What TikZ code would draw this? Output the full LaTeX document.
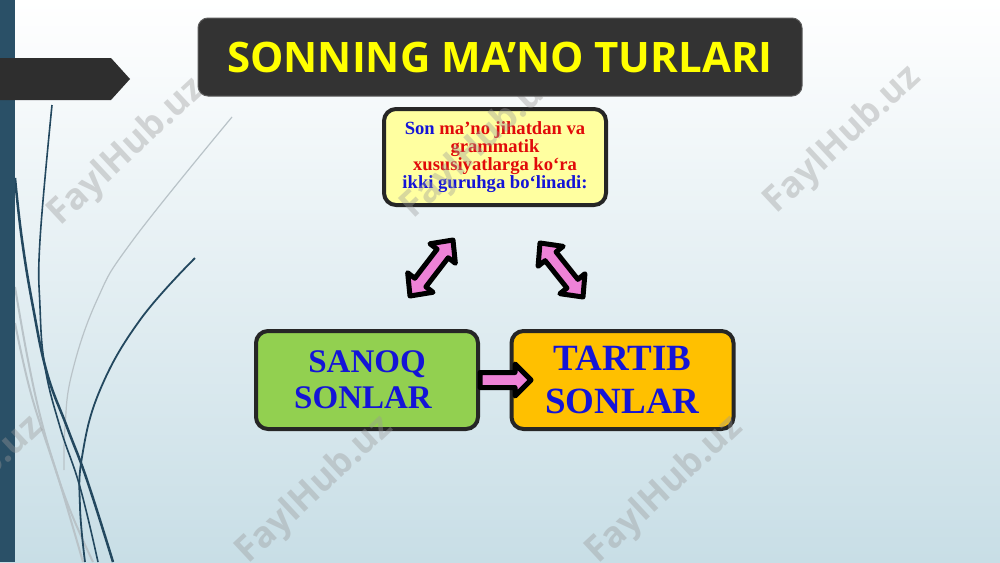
\documentclass[tikz,border=0pt]{standalone}
\usepackage{fontspec}
\setmainfont{Liberation Serif}
\newfontfamily\osans{Open Sans}
\usetikzlibrary{calc}
\definecolor{barblue}{RGB}{42,80,103}
\definecolor{curvedark}{RGB}{35,72,95}
\definecolor{curvegray}{RGB}{185,195,200}
\definecolor{darkbox}{RGB}{51,51,51}
\definecolor{titleyellow}{RGB}{255,255,0}
\definecolor{infoyellow}{RGB}{255,255,160}
\definecolor{sanoqgreen}{RGB}{146,208,80}
\definecolor{tartiborange}{RGB}{255,192,0}
\definecolor{txtblue}{RGB}{20,20,215}
\definecolor{txtred}{RGB}{225,10,10}
\definecolor{arrowpink}{RGB}{238,130,215}
\definecolor{bgbottom}{RGB}{200,222,230}
\tikzset{
  titlebox/.style={draw=darkbox!80!white, line width=1pt, fill=darkbox, rounded corners=10pt,
    minimum width=604pt, minimum height=78pt, text=titleyellow,
    font=\osans\bfseries\fontsize{42}{50}\selectfont, inner sep=0pt},
  roundbox/.style={draw=black!85, line width=4pt, rounded corners=12pt, inner sep=0pt, align=center},
  infobox/.style={roundbox, fill=infoyellow, minimum width=222pt, minimum height=96pt,
    font=\bfseries\fontsize{18.6}{15.2}\selectfont},
  kindbox/.style={roundbox, minimum width=222pt, minimum height=98pt, text=txtblue},
  blockarrow/.style={draw=black, line width=5pt, line join=round, fill=arrowpink},
  darkcurve/.style={draw=curvedark, line width=#1},
  graycurve/.style={draw=curvegray, line width=#1},
  watermark/.style={text=black!40, text opacity=0.38, rotate=43,
    font=\osans\bfseries\fontsize{36}{36}\selectfont, inner sep=0pt}
}
% double block arrow: A, B, shaft half width, head half width, head length
\newcommand{\dblarrow}[5]{%
  \coordinate (p1) at ($(#1)!#5!(#2)$);
  \coordinate (p2) at ($(#2)!#5!(#1)$);
  \draw[blockarrow] (#1) -- ($(p1)!#4!90:(#2)$) -- ($(p1)!#3!90:(#2)$)
    -- ($(p2)!#3!-90:(#1)$) -- ($(p2)!#4!-90:(#1)$) -- (#2)
    -- ($(p2)!#4!90:(#1)$) -- ($(p2)!#3!90:(#1)$)
    -- ($(p1)!#3!-90:(#2)$) -- ($(p1)!#4!-90:(#2)$) -- cycle;}
\newcommand{\sglarrow}[5]{%
  \coordinate (p2) at ($(#2)!#5!(#1)$);
  \draw[blockarrow] ($(#1)!#3!90:(#2)$) -- ($(p2)!#3!-90:(#1)$)
    -- ($(p2)!#4!-90:(#1)$) -- (#2) -- ($(p2)!#4!90:(#1)$)
    -- ($(p2)!#3!90:(#1)$) -- ($(#1)!#3!-90:(#2)$) -- cycle;}
\begin{document}
\begin{tikzpicture}[x=1pt,y=-1pt]
\useasboundingbox (0,0) rectangle (1000,562);
% background
\shade[top color=white, middle color={rgb,255:red,228;green,238;blue,241}, bottom color=bgbottom]
  (0,0) rectangle (1000,562);
% decorative curves
\draw[graycurve=1.2pt] plot[smooth, tension=0.7] coordinates {(232,117) (133,240) (97,300) (72,373) (65,427) (64,470)};
\draw[graycurve=2pt] plot[smooth, tension=0.7] coordinates {(15,287) (28,360) (43,427) (62,490) (83,562)};
\draw[graycurve=2pt] plot[smooth, tension=0.7] coordinates {(15,323) (30,390) (50,453) (70,510) (93,562)};
\draw[darkcurve=2.5pt] plot[smooth, tension=0.7] coordinates {(15,178) (22,240) (33,307) (47,373) (67,427) (87,480) (113,562)};
\draw[darkcurve=1.6pt] plot[smooth, tension=0.7] coordinates {(52,105) (40,240) (40,307) (45,367) (60,427) (80,487) (98,562)};
\draw[darkcurve=1.8pt] plot[smooth, tension=0.7] coordinates {(195,258) (140,320) (100,390) (82,457) (80,507) (85,562)};
% left bar and pointer
\fill[barblue] (0,0) rectangle (15,562);
\fill[darkbox!90!black] (0,58) -- (111,58) -- (130,79) -- (111,100) -- (0,100) -- cycle;
% boxes
\node[infobox] (info) at (495,157) {{\color{txtblue}Son} \color{txtred}ma’no jihatdan va\\ \color{txtred}grammatik\\ \color{txtred}xususiyatlarga ko‘ra\\ \color{txtblue}ikki guruhga bo‘linadi:};
\node[kindbox, fill=sanoqgreen, font=\bfseries\fontsize{33}{36}\selectfont] (sanoq) at (367,380) {SANOQ\\SONLAR\hspace*{8pt}};
\node[kindbox, fill=tartiborange, font=\bfseries\fontsize{37}{43}\selectfont] (tartib) at (622.5,380) {TARTIB\\SONLAR};
% arrows
\coordinate (la1) at (410,296);
\coordinate (la2) at (453,240);
\coordinate (ra1) at (540,243);
\coordinate (ra2) at (583,297);
\coordinate (ha2) at (531,380);
\dblarrow{la1}{la2}{7pt}{16pt}{17pt}
\dblarrow{ra1}{ra2}{7pt}{16pt}{17pt}
\sglarrow{sanoq.east}{ha2}{7.5pt}{16pt}{16pt}
% watermarks
\node[watermark] (wm1) at (127,152) {FaylHub.uz};
\node[watermark] (wm2) at (480,145) {FaylHub.uz};
\node[watermark] (wm3) at (843,140) {FaylHub.uz};
\node[watermark] (wm4) at (-35,490) {FaylHub.uz};
\node[watermark] (wm5) at (315,490) {FaylHub.uz};
\node[watermark] (wm6) at (665,490) {FaylHub.uz};
% title (above the watermarks)
\node[titlebox] (title) at (500,57) {SONNING MA’NO TURLARI};
\end{tikzpicture}
\end{document}
